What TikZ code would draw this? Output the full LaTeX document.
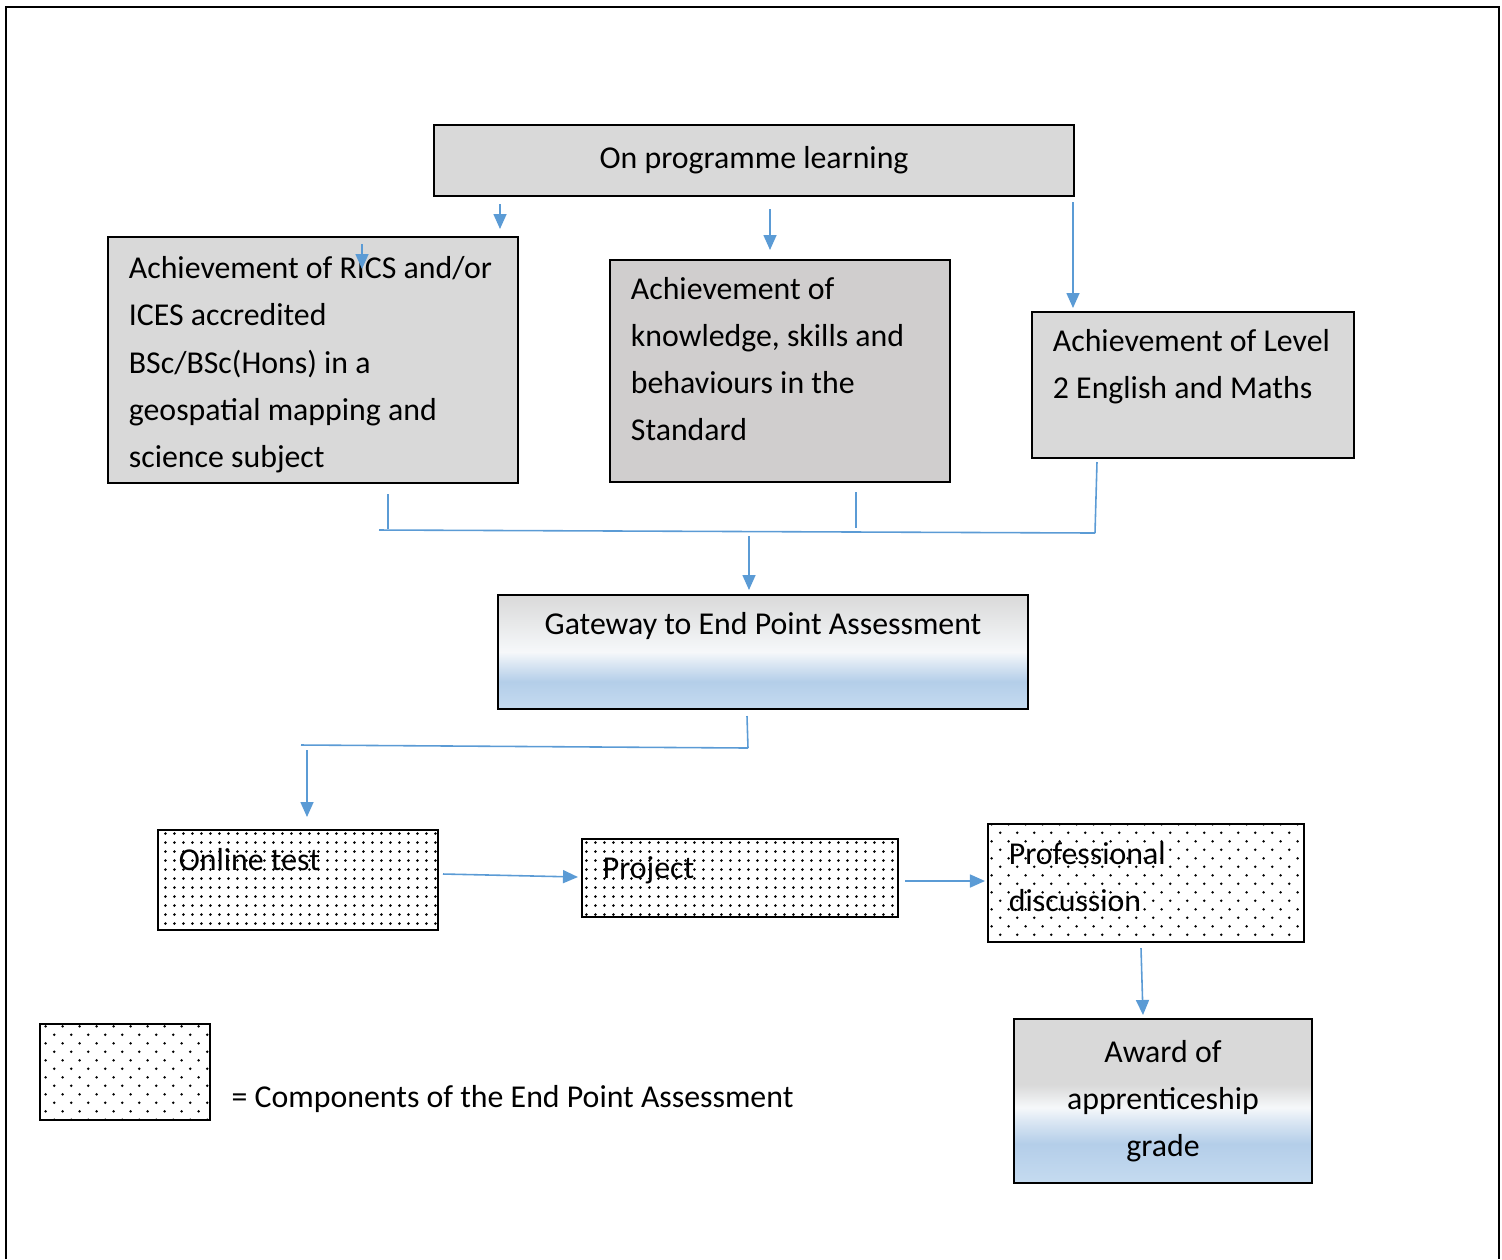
\documentclass[tikz,border=0pt]{standalone}
\usepackage{fontspec}
\setmainfont{Carlito}
\usetikzlibrary{arrows.meta,patterns.meta}
\definecolor{linkblue}{RGB}{91,155,213}
\definecolor{boxgrey}{RGB}{217,217,217}
\definecolor{boxgreydark}{RGB}{208,206,206}
\definecolor{fadeblue}{RGB}{180,206,233}
\definecolor{fadebluelight}{RGB}{197,219,240}
\definecolor{fadewhite}{RGB}{246,248,250}
\pgfdeclareverticalshading{gatefade}{100bp}{color(0bp)=(fadebluelight); color(25bp)=(fadebluelight); color(37bp)=(fadeblue); color(45bp)=(fadeblue!40!fadewhite); color(50bp)=(fadewhite); color(75bp)=(boxgrey); color(100bp)=(boxgrey)}
\pgfdeclareverticalshading{awardfade}{100bp}{color(0bp)=(fadebluelight); color(25bp)=(fadebluelight); color(37bp)=(fadeblue); color(44bp)=(fadeblue!40!fadewhite); color(48bp)=(fadewhite); color(55bp)=(boxgrey); color(100bp)=(boxgrey)}
\tikzdeclarepattern{name=finedots, tile size={(2.55pt,2.55pt)}, bounding box={(0pt,0pt) and (2.55pt,2.55pt)}, code={\fill (1.27pt,1.27pt) circle (0.42pt);}}
\tikzdeclarepattern{name=sparsedots, tile size={(4.8pt,4.8pt)}, bounding box={(0pt,0pt) and (4.8pt,4.8pt)}, code={\fill (1.2pt,1.2pt) circle (0.4pt); \fill (3.6pt,3.6pt) circle (0.4pt);}}

\begin{document}
\begin{tikzpicture}[x=0.01cm, y=-0.01cm,
  every node/.style={font=\fontsize{9.05pt}{13.37pt}\selectfont, inner xsep=0.21cm, anchor=north west,
    execute at begin node={\spaceskip=0pt\xspaceskip=0pt\relax}},
  greybox/.style={draw, line width=0.5pt, fill=boxgrey},
  dotbox/.style={draw, line width=0.5pt, fill=white, pattern=finedots},
  sparsebox/.style={draw, line width=0.5pt, fill=white, pattern=sparsedots},
  flow/.style={draw=linkblue, line width=0.45pt, -{Triangle[length=0.15cm, width=0.13cm]}},
  link/.style={draw=linkblue, line width=0.45pt}]
  \useasboundingbox (0,0) rectangle (1502,1259);
  \draw[line width=0.6pt] (6,1259) -- (6,7) -- (1499,7) -- (1499,1259);

  % top row
  \node[greybox, minimum width=6.40cm, minimum height=0.71cm, text width=5.98cm, align=flush center] (prog) at (433,124) {On programme learning};
  \node[greybox, minimum width=4.10cm, minimum height=2.46cm, text width=3.68cm, text depth=1.84cm, align=flush left] (rics) at (107,236)
    {\mbox{Achievement of RICS and/or}\\ICES accredited\\BSc/BSc(Hons) in a\\geospatial mapping and\\science subject};
  \node[greybox, fill=boxgreydark, minimum width=3.40cm, minimum height=2.22cm, text width=2.98cm, text depth=1.65cm, align=flush left] (ksb) at (609,259)
    {Achievement of\\knowledge, skills and\\behaviours in the\\Standard};
  \node[greybox, minimum width=3.22cm, minimum height=1.46cm, text width=2.80cm, text depth=0.89cm, align=flush left] (lvl2) at (1031,311)
    {Achievement of Level\\2 English and Maths};

  % gateway
  \node[draw, line width=0.5pt, shading=gatefade, minimum width=5.30cm, minimum height=1.14cm, text width=4.88cm, text depth=0.56cm, align=flush center] (gate) at (497,594)
    {Gateway to End Point Assessment};

  % end point assessment
  \node[dotbox, minimum width=2.80cm, minimum height=1.00cm, text width=2.38cm, text depth=0.40cm, align=flush left] (online) at (157,829) {Online test};
  \node[dotbox, minimum width=3.16cm, minimum height=0.78cm, text width=2.74cm, text depth=0.21cm, align=flush left] (project) at (581,838) {Project};
  \node[sparsebox, minimum width=3.16cm, minimum height=1.18cm, text width=2.74cm, text depth=0.59cm, align=flush left] (profdisc) at (987,823) {Professional\\discussion};
  \node[draw, line width=0.5pt, shading=awardfade, minimum width=2.98cm, minimum height=1.64cm, text width=2.56cm, align=flush center] (award) at (1013,1018)
    {Award of\\apprenticeship\\grade};

  % legend
  \node[sparsebox, minimum width=1.70cm, minimum height=0.96cm] (legend) at (39,1023) {};
  \node[anchor=base west, inner xsep=0pt] (legtext) at (231,1107) {= Components of the End Point Assessment};

  % connectors
  \coordinate (c1s) at (500,204); \coordinate (c1e) at (500,229);
  \coordinate (c2s) at (362,244); \coordinate (c2e) at (362,269);
  \coordinate (c3s) at (770,209); \coordinate (c3e) at (770,250);
  \coordinate (c4s) at (1073,202); \coordinate (c4e) at (1073,308);
  \draw[flow] (c1s) -- (c1e);
  \draw[flow] (c2s) -- (c2e);
  \draw[flow] (c3s) -- (c3e);
  \draw[flow] (c4s) -- (c4e);

  \coordinate (j1) at (388,494); \coordinate (j1b) at (388,529);
  \coordinate (j2) at (856,492); \coordinate (j2b) at (856,528);
  \coordinate (j3) at (1097,462); \coordinate (j3b) at (1095,533);
  \coordinate (busw) at (379,530);
  \draw[link] (j1) -- (j1b);
  \draw[link] (j2) -- (j2b);
  \draw[link] (j3) -- (j3b);
  \draw[link] (busw) -- (j3b);
  \coordinate (d1s) at (749,536); \coordinate (d1e) at (749,590);
  \draw[flow] (d1s) -- (d1e);

  \coordinate (k1) at (747,716); \coordinate (k1b) at (748,748);
  \coordinate (bus2w) at (301,745);
  \draw[link] (k1) -- (k1b);
  \draw[link] (bus2w) -- (k1b);
  \coordinate (e1s) at (307,750); \coordinate (e1e) at (307,817);
  \draw[flow] (e1s) -- (e1e);

  \coordinate (f1s) at (443,874); \coordinate (f1e) at (578,877);
  \draw[flow] (f1s) -- (f1e);
  \coordinate (f2s) at (905,881); \coordinate (f2e) at (985,881);
  \draw[flow] (f2s) -- (f2e);
  \coordinate (f3s) at (1141,948); \coordinate (f3e) at (1143,1015);
  \draw[flow] (f3s) -- (f3e);
\end{tikzpicture}
\end{document}
